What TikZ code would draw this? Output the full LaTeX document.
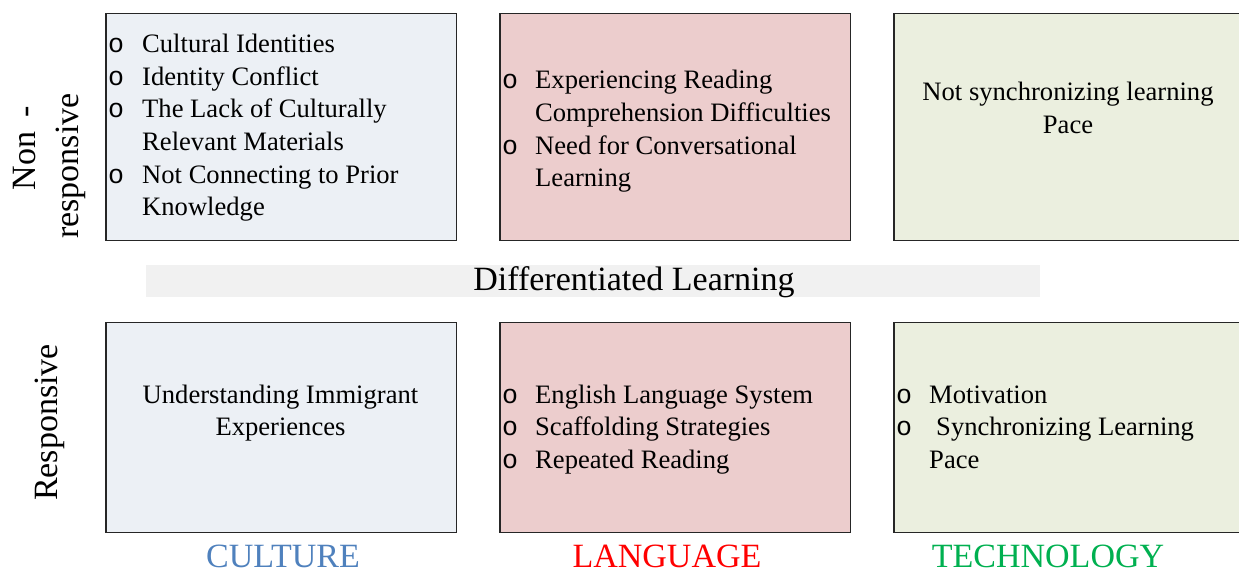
\documentclass[tikz,border=0pt]{standalone}
\usepackage{fontspec}
\setmainfont{Liberation Serif}
\newfontfamily\bulfont{Liberation Mono}
\definecolor{cultfill}{RGB}{236,240,245}
\definecolor{langfill}{RGB}{236,205,205}
\definecolor{techfill}{RGB}{235,239,223}
\definecolor{bandfill}{RGB}{241,241,241}
\definecolor{cultblue}{RGB}{79,129,189}
\definecolor{langred}{RGB}{255,0,0}
\definecolor{techgreen}{RGB}{0,176,80}
\tikzset{
  cell/.style={draw=black!85, line width=1.2pt, anchor=north west, inner sep=0pt},
  txt/.style={anchor=base west, inner sep=0pt, font=\fontsize{26.6}{32.4}\selectfont},
  ctxt/.style={anchor=base, inner sep=0pt, font=\fontsize{26.6}{32.4}\selectfont},
  bul/.style={anchor=base west, inner sep=0pt, font=\bulfont\fontsize{26.6}{32.4}\selectfont},
  side/.style={anchor=base, inner sep=0pt, rotate=90, font=\fontsize{34}{40}\selectfont},
  cat/.style={anchor=base, inner sep=0pt, font=\fontsize{34}{40}\selectfont},
}
\begin{document}
\begin{tikzpicture}[x=1pt,y=-1pt]
\useasboundingbox (0,0) rectangle (1239,575);
\clip (0,0) rectangle (1239,575);
% boxes
\node[cell, fill=cultfill, minimum width=350.5pt, minimum height=227.5pt] (b1) at (105.3,12.6) {};
\node[cell, fill=langfill, minimum width=350.5pt, minimum height=227.5pt] (b2) at (499.3,12.6) {};
\node[cell, fill=techfill, minimum width=350.5pt, minimum height=227.5pt] (b3) at (893.3,12.6) {};
\node[cell, fill=cultfill, minimum width=350.5pt, minimum height=210.5pt] (b4) at (105.3,321.7) {};
\node[cell, fill=langfill, minimum width=350.5pt, minimum height=210.5pt] (b5) at (499.3,321.7) {};
\node[cell, fill=techfill, minimum width=350.5pt, minimum height=210.5pt] (b6) at (893.3,321.7) {};
% band
\node[fill=bandfill, inner sep=0pt, minimum width=894pt, minimum height=32pt, anchor=north west] (band) at (146,265) {};
\node[anchor=base, inner sep=0pt, font=\fontsize{34}{40}\selectfont] (dl) at (634,290) {Differentiated Learning};
% side labels
\node[side] (non) at (35,148.5) {Non\hspace{14pt}-};
\node[side] (resp1) at (78,166) {responsive};
\node[side] (resp2) at (57,422.5) {Responsive};
% box 1
\node[bul] (o11) at (108,53) {o};
\node[txt] (t11) at (142,53) {Cultural Identities};
\node[bul] (o12) at (108,85.5) {o};
\node[txt] (t12) at (142,85.5) {Identity Conflict};
\node[bul] (o13) at (108,118) {o};
\node[txt] (t13) at (142,118) {The Lack of Culturally};
\node[txt] (t14) at (142,150.5) {Relevant Materials};
\node[bul] (o15) at (108,183) {o};
\node[txt] (t15) at (142,183) {Not Connecting to Prior};
\node[txt] (t16) at (142,215.5) {Knowledge};
% box 2
\node[bul] (o21) at (502,89) {o};
\node[txt] (t21) at (535,89) {Experiencing Reading};
\node[txt] (t22) at (535,121.5) {Comprehension Difficulties};
\node[bul] (o23) at (502,154) {o};
\node[txt] (t23) at (535,154) {Need for Conversational};
\node[txt] (t24) at (535,186.5) {Learning};
% box 3
\node[ctxt] (t31) at (1068,101) {Not synchronizing learning};
\node[ctxt] (t32) at (1068,133.5) {Pace};
% box 4
\node[ctxt] (t41) at (280.5,403) {Understanding Immigrant};
\node[ctxt] (t42) at (280.5,435.5) {Experiences};
% box 5
\node[bul] (o51) at (502,403) {o};
\node[txt] (t51) at (535,403) {English Language System};
\node[bul] (o52) at (502,435.5) {o};
\node[txt] (t52) at (535,435.5) {Scaffolding Strategies};
\node[bul] (o53) at (502,468) {o};
\node[txt] (t53) at (535,468) {Repeated Reading};
% box 6
\node[bul] (o61) at (896,403) {o};
\node[txt] (t61) at (929,403) {Motivation};
\node[bul] (o62) at (896,435.5) {o};
\node[txt] (t62) at (936,435.5) {Synchronizing Learning};
\node[txt] (t63) at (929,468) {Pace};
% categories
\node[cat, text=cultblue] (cul) at (283,567.5) {CULTURE};
\node[cat, text=langred] (lan) at (667,567.5) {LANGUAGE};
\node[cat, text=techgreen] (tec) at (1048,567.5) {TECHNOLOGY};
\end{tikzpicture}
\end{document}
